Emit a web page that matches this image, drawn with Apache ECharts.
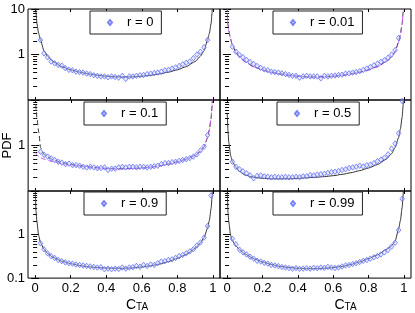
<!DOCTYPE html>
<html><head><meta charset="utf-8">
<script src="https://cdn.jsdelivr.net/npm/echarts@6/dist/echarts.min.js"></script>
<style>html,body{margin:0;padding:0;background:#fff}#c{width:415px;height:313px}</style>
</head><body><div id="c"></div>
<script>
// ---- data ----
const markerX = [0.03,0.05,0.07,0.09,0.11,0.13,0.15,0.17,0.19,0.21,0.23,0.25,0.27,0.29,0.31,0.33,0.35,0.37,0.39,0.41,0.43,0.45,0.47,0.49,0.51,0.53,0.55,0.57,0.59,0.61,0.63,0.65,0.67,0.69,0.71,0.73,0.75,0.77,0.79,0.81,0.83,0.85,0.87,0.89,0.91,0.93,0.95,0.97,0.99];
const pdfR0   = [2.08,1.06,0.87,0.70,0.64,0.59,0.57,0.50,0.46,0.45,0.42,0.41,0.40,0.38,0.37,0.35,0.34,0.33,0.33,0.316,0.33,0.32,0.31,0.34,0.29,0.33,0.33,0.34,0.35,0.355,0.37,0.38,0.39,0.40,0.42,0.45,0.46,0.49,0.52,0.56,0.61,0.66,0.70,0.83,1.0,1.15,1.44,2.08,null];
const pdfR001 = [1.48,1.15,0.98,0.87,0.76,0.68,0.62,0.56,0.51,0.47,0.45,0.42,0.41,0.40,0.385,0.37,0.355,0.34,0.34,0.31,0.33,0.34,0.33,0.33,0.33,0.30,0.34,0.33,0.34,0.345,0.355,0.36,0.38,0.385,0.40,0.41,0.43,0.46,0.49,0.53,0.58,0.63,0.69,0.75,0.85,1.0,1.25,2.3,null];
const pdfR01  = [0.73,0.62,0.57,0.52,0.48,0.44,0.42,0.39,0.40,0.37,0.37,0.36,0.34,0.33,0.34,0.33,0.316,0.32,0.33,0.29,0.31,0.31,0.33,0.34,0.33,0.34,0.34,0.33,0.34,0.34,0.33,0.34,0.35,0.36,0.39,0.41,0.41,0.43,0.44,0.46,0.48,0.50,0.53,0.57,0.64,0.78,0.94,1.7,null];
const pdfR05  = [0.44,0.34,0.30,0.27,0.245,0.22,0.19,0.215,0.22,0.21,0.205,0.2,0.205,0.2,0.2,0.205,0.2,0.2,0.205,0.2,0.21,0.21,0.225,0.22,0.23,0.235,0.24,0.25,0.26,0.265,0.275,0.29,0.30,0.32,0.33,0.34,0.36,0.345,0.37,0.38,0.41,0.45,0.49,0.54,0.64,0.85,1.1,1.85,9.5];
const pdfR09  = [0.63,0.46,0.37,0.32,0.29,0.26,0.245,0.23,0.22,0.215,0.205,0.2,0.195,0.19,0.185,0.18,0.175,0.178,0.16,0.165,0.16,0.165,0.162,0.175,0.165,0.175,0.178,0.19,0.182,0.2,0.19,0.205,0.2,0.22,0.24,0.245,0.26,0.27,0.29,0.32,0.34,0.37,0.41,0.46,0.56,0.66,0.85,1.56,7.9];
const pdfR099 = [0.80,0.60,0.45,0.39,0.35,0.31,0.28,0.25,0.24,0.225,0.215,0.20,0.195,0.188,0.18,0.175,0.17,0.165,0.17,0.163,0.165,0.168,0.165,0.172,0.168,0.175,0.172,0.18,0.175,0.17,0.175,0.185,0.195,0.20,0.21,0.22,0.235,0.25,0.26,0.28,0.30,0.32,0.35,0.39,0.44,0.53,0.65,1.27,6.6];

const lineX = [0.001,0.002,0.005,0.01,0.02,0.03,0.05,0.07,0.1,0.15,0.2,0.25,0.3,0.35,0.4,0.45,0.5,0.55,0.6,0.65,0.7,0.75,0.8,0.85,0.9,0.93,0.95,0.97,0.98,0.99,0.995,0.998,0.999];
const theoryR0   = [25,15,8,4.8,2.9,2.1,1.2,0.92,0.7,0.54,0.46,0.41,0.375,0.35,0.333,0.323,0.32,0.323,0.333,0.35,0.375,0.41,0.46,0.54,0.7,0.92,1.2,2.1,2.9,4.8,8,15,25];
const theoryR001 = [11,6.5,4.5,3.3,2.2,1.6,1.12,0.9,0.7,0.54,0.46,0.41,0.375,0.35,0.333,0.323,0.32,0.323,0.333,0.35,0.375,0.41,0.46,0.54,0.7,0.88,1.15,1.9,2.8,4.8,8,15,25];
const fitR001    = [12,7,4.6,3.3,2.15,1.58,1.1,0.88,0.69,0.535,0.455,0.405,0.372,0.348,0.332,0.322,0.319,0.322,0.332,0.348,0.372,0.405,0.455,0.535,0.69,0.87,1.13,1.85,2.7,4.6,7.8,14,24];
const theoryR01  = [12,8.6,6,3.9,1.95,0.9,0.63,0.56,0.49,0.42,0.385,0.36,0.34,0.325,0.315,0.31,0.31,0.315,0.32,0.335,0.36,0.39,0.44,0.5,0.6,0.74,0.92,1.5,2.2,4,7,12,18];
const fitR01     = [0.7,0.69,0.66,0.62,0.57,0.54,0.5,0.47,0.44,0.4,0.37,0.35,0.335,0.32,0.31,0.305,0.305,0.31,0.318,0.333,0.357,0.388,0.437,0.5,0.6,0.74,0.93,1.5,2.2,4,7.2,12.5,19];
const theoryR05  = [5.2,4.0,2.1,1.15,0.6,0.44,0.33,0.27,0.225,0.2,0.19,0.185,0.185,0.186,0.19,0.195,0.2,0.207,0.217,0.232,0.252,0.28,0.32,0.38,0.5,0.66,0.9,1.5,2.3,4.2,7.3,12.5,19];
const theoryR09  = [12,7,3.5,2.0,0.95,0.66,0.46,0.37,0.3,0.245,0.215,0.195,0.182,0.175,0.17,0.168,0.168,0.172,0.18,0.192,0.21,0.24,0.285,0.35,0.48,0.64,0.85,1.4,2.1,4,7,12,18];
const theoryR099 = [12,7,3.3,1.9,0.95,0.72,0.55,0.45,0.36,0.28,0.235,0.205,0.185,0.175,0.168,0.165,0.165,0.168,0.175,0.185,0.205,0.235,0.28,0.34,0.45,0.55,0.7,1.35,2.1,4.2,7.5,13,20];

const xTickValues = [0,0.2,0.4,0.6,0.8,1];
const yTickLabels = ['0.1','1','10'];
const yLabelsShownByRow = [['1','10'],['1'],['0.1','1']];
const legendNames = ['r = 0','r = 0.01','r = 0.1','r = 0.5','r = 0.9','r = 0.99'];

// ---- layout / style ----
const FONT = 'Liberation Sans, Arial, Helvetica, sans-serif';
const gridLeft = [28, 220], gridWidth = [192, 191];
const gridTop = [9, 100, 191], gridHeight = 91;
const legendPos = [[90,11],[273,11],[84,102],[277,102],[84,192],[273,192]];
const BLACK = '#333333', MAG = '#c456ee';

const panels = [
  {pts: pdfR0,   lines: [{y: theoryR0,   color: BLACK, type: 'solid'}]},
  {pts: pdfR001, lines: [{y: theoryR001, color: BLACK, type: [5,3]}, {y: fitR001, color: MAG, type: [6,2,1.5,2]}]},
  {pts: pdfR01,  lines: [{y: theoryR01,  color: BLACK, type: [5,3]}, {y: fitR01,  color: MAG, type: [5,3]}]},
  {pts: pdfR05,  lines: [{y: theoryR05,  color: BLACK, type: 'solid'}]},
  {pts: pdfR09,  lines: [{y: theoryR09,  color: BLACK, type: 'solid'}]},
  {pts: pdfR099, lines: [{y: theoryR099, color: BLACK, type: 'solid'}]}
];

function zip(xs, ys) {
  const out = [];
  for (let i = 0; i < xs.length; i++) if (ys[i] != null) out.push([xs[i], ys[i]]);
  return out;
}
function yLabelOf(v) { return v < 0.5 ? yTickLabels[0] : (v < 5 ? yTickLabels[1] : yTickLabels[2]); }

const grid = [], xAxis = [], yAxis = [], series = [], legend = [];
panels.forEach((p, g) => {
  const row = Math.floor(g / 2), col = g % 2;
  grid.push({left: gridLeft[col], top: gridTop[row], width: gridWidth[col], height: gridHeight,
    show: true, borderColor: '#000', borderWidth: 1, backgroundColor: 'transparent'});
  const tickStyle = {lineStyle: {color: '#000', width: 1}};
  ['bottom','top'].forEach((pos) => {
    const showLab = (pos === 'bottom' && row === 2);
    xAxis.push({
      gridIndex: g, type: 'value', min: -0.04, max: 1.04, position: pos,
      axisLine: {show: false}, splitLine: {show: false},
      axisTick: Object.assign({show: true, inside: true, length: 3, customValues: xTickValues}, tickStyle),
      axisLabel: {show: showLab, customValues: xTickValues, fontSize: 13, fontFamily: FONT, color: '#000', margin: 4,
                  formatter: v => String(v)},
      name: showLab ? '{a|C}{b|TA}' : '',
      nameLocation: 'middle', nameGap: 12,
      nameTextStyle: {padding: [0,0,0, col === 0 ? 26 : 60],
        rich: {a: {fontSize: 14, fontFamily: FONT, color: '#000', lineHeight: 14, verticalAlign: 'top'},
               b: {fontSize: 10, fontFamily: FONT, color: '#000', lineHeight: 10, verticalAlign: 'bottom', padding: [6,0,0,0]}}}
    });
  });
  ['left','right'].forEach((pos) => {
    const showLab = (pos === 'left' && col === 0);
    yAxis.push({
      gridIndex: g, type: 'log', logBase: 10, min: 0.1, max: 10, position: pos,
      axisLine: {show: false}, splitLine: {show: false},
      axisTick: Object.assign({show: true, inside: true, length: 4}, tickStyle),
      minorTick: Object.assign({show: true, splitNumber: 9, length: 2}, tickStyle),
      axisLabel: {show: showLab, fontSize: 13, fontFamily: FONT, color: '#000', margin: 3,
                  showMinLabel: true, showMaxLabel: true,
                  formatter: v => { const s = yLabelOf(v); return yLabelsShownByRow[row].indexOf(s) >= 0 ? s : ''; }},
      name: (showLab && row === 1) ? 'PDF' : '',
      nameLocation: 'middle', nameGap: 10, nameRotate: 90,
      nameTextStyle: {fontSize: 13, fontFamily: FONT, color: '#000'}
    });
  });
  p.lines.forEach((ln, j) => {
    series.push({type: 'line', name: 'curve' + g + '_' + j, xAxisIndex: 2*g, yAxisIndex: 2*g,
      data: zip(lineX, ln.y), showSymbol: false, symbol: 'none', smooth: 0.2, smoothMonotone: 'x',
      lineStyle: {color: ln.color, width: 1, type: ln.type}, silent: true, z: 2 + j});
  });
  series.push({type: 'scatter', name: legendNames[g], xAxisIndex: 2*g, yAxisIndex: 2*g,
    data: zip(markerX, p.pts), symbol: 'diamond', symbolSize: [4.5, 5.5],
    itemStyle: {color: 'rgba(195,200,255,0.5)', borderColor: '#5766f2', borderWidth: 0.9}, z: 5, silent: true});
  legend.push({data: [legendNames[g]], left: legendPos[g][0], top: legendPos[g][1], orient: 'horizontal',
    backgroundColor: '#fff', borderColor: '#222', borderWidth: 1, borderRadius: 0,
    padding: [5, 8, 5, 17], itemWidth: 4, itemHeight: 5, icon: 'diamond', selectedMode: false,
    textStyle: {fontSize: 13, fontFamily: FONT, color: '#000', padding: [0,0,0,10]}});
});

const chart = echarts.init(document.getElementById('c'), null, {renderer: 'canvas'});
chart.setOption({animation: false, textStyle: {fontFamily: FONT}, grid, xAxis, yAxis, series, legend});
</script></body></html>
